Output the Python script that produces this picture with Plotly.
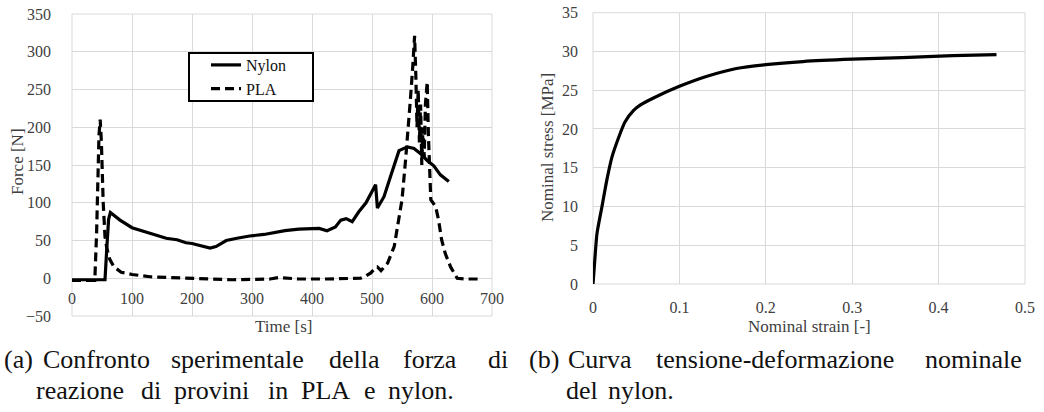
import plotly.graph_objects as go

# ---------------- data ----------------
nylon_t = [0, 20, 40, 55, 58, 61, 64, 70, 80, 100, 120, 140, 157, 175, 190, 200, 215, 230,
           240, 257, 275, 296, 320, 340, 355, 378, 412, 425, 439, 448, 457, 467, 478, 490,
           498, 506, 509, 520, 531, 545, 559, 570, 581, 592, 603, 614, 628]
nylon_f = [-2, -2, -2, -2, 40, 78, 87, 83, 77, 67, 62, 57, 53, 51, 47, 46, 43, 40,
           42, 50, 53, 56, 58, 61, 63, 65, 66, 63, 68, 77, 79, 75, 88, 100,
           113, 124, 93, 108, 135, 169, 174, 172, 165, 156, 149, 137, 128]

pla_t = [0, 20, 38, 41, 45, 47, 49, 52, 55, 58, 63, 70, 82, 100, 130, 160, 185, 230, 268,
         300, 330, 345, 360, 378, 420, 460, 481, 490, 498, 505, 509, 515, 526, 537, 545,
         550, 556, 560, 564, 568, 571, 573, 575, 577, 579, 581, 583, 585, 587, 589, 592,
         594, 596, 598, 606, 611, 616, 622, 631, 642, 655, 683]
pla_f = [-3, -3, -3, 60, 190, 210, 180, 100, 55, 40, 25, 15, 8, 5, 2, 1, 0, -1, -2,
         -2, -1, 1, 0, -1, -1, -1, 0, 3, 7, 13, 15, 10, 20, 42, 82,
         104, 157, 192, 237, 281, 321, 270, 200, 250, 180, 230, 150, 200, 160, 230, 260,
         190, 140, 104, 95, 77, 51, 33, 15, 0, -1, -1]

strain = [0, 0.0015, 0.0046, 0.0104, 0.016, 0.022, 0.03, 0.037, 0.047, 0.055, 0.07,
          0.1, 0.132, 0.166, 0.2, 0.243, 0.3, 0.358, 0.416, 0.467]
stress = [0, 2.2, 6.5, 10, 13.4, 16.4, 19, 20.9, 22.4, 23.1, 24,
          25.5, 26.8, 27.8, 28.3, 28.7, 29.0, 29.2, 29.45, 29.6]

time_ticks = [0, 100, 200, 300, 400, 500, 600, 700]
force_ticks = [-50, 0, 50, 100, 150, 200, 250, 300, 350]
strain_ticks = [0, 0.1, 0.2, 0.3, 0.4, 0.5]
strain_labels = ["0", "0.1", "0.2", "0.3", "0.4", "0.5"]
stress_ticks = [0, 5, 10, 15, 20, 25, 30, 35]

caption_a1 = ["(a)", "Confronto", "sperimentale", "della", "forza", "di"]
caption_a2 = ["reazione", "di", "provini", "in", "PLA", "e", "nylon."]
caption_b1 = ["(b)", "Curva", "tensione-deformazione", "nominale"]
caption_b2 = ["del", "nylon."]

# ---------------- layout constants ----------------
W, H = 1044, 412
def px(x):
    return x / W
def py(y):
    return 1 - y / H

SERIF = "Liberation Serif"
TICKFONT = dict(family=SERIF, size=16, color="#404040")
TITLEFONT = dict(family=SERIF, size=17, color="#404040")
CAPFONT = dict(family=SERIF, size=26, color="#111111")
GRID = "#d9d9d9"

fig = go.Figure()

fig.add_trace(go.Scatter(x=nylon_t, y=nylon_f, mode="lines", name="Nylon",
                         line=dict(color="black", width=3.2), xaxis="x", yaxis="y"))
fig.add_trace(go.Scatter(x=pla_t, y=pla_f, mode="lines", name="PLA",
                         line=dict(color="black", width=3.2, dash="9px,5px"),
                         xaxis="x", yaxis="y"))
fig.add_trace(go.Scatter(x=strain, y=stress, mode="lines", name="Nylon stress-strain",
                         line=dict(color="black", width=3.2, shape="spline", smoothing=0.6),
                         xaxis="x2", yaxis="y2", showlegend=False))

left_dom_y = [py(316), py(14)]
zero_pos = left_dom_y[0] + (left_dom_y[1] - left_dom_y[0]) * (50 / 400)

axis_common = dict(showgrid=True, gridcolor=GRID, gridwidth=1, zeroline=False,
                   showline=False, ticks="", tickfont=TICKFONT, automargin=False)

fig.update_layout(
    width=W, height=H,
    margin=dict(l=0, r=0, t=0, b=0, autoexpand=False),
    paper_bgcolor="white", plot_bgcolor="white",
    showlegend=True,
    legend=dict(x=px(206), y=py(48), xanchor="left", yanchor="top",
                bgcolor="rgba(0,0,0,0)", borderwidth=0,
                font=dict(family=SERIF, size=16, color="#111111"),
                itemwidth=30, tracegroupgap=0),
    xaxis=dict(domain=[px(72), px(492)], range=[0, 700], tickvals=time_ticks,
               anchor="free", position=zero_pos, ticklabelstandoff=9, **axis_common),
    yaxis=dict(domain=left_dom_y, range=[-50, 350], tickvals=force_ticks,
               ticklabelstandoff=20, anchor="x", **axis_common),
    xaxis2=dict(domain=[px(593), px(1025)], range=[0, 0.5], tickvals=strain_ticks,
                ticktext=strain_labels, anchor="y2", ticklabelstandoff=12, **axis_common),
    yaxis2=dict(domain=[py(284), py(12.7)], range=[0, 35], tickvals=stress_ticks,
                anchor="x2", ticklabelstandoff=14, **axis_common),
)

# plot-area borders (light grid colour)
for xr, yr in (("x domain", "y domain"), ("x2 domain", "y2 domain")):
    fig.add_shape(type="rect", xref=xr, yref=yr, x0=0, x1=1, y0=0, y1=1,
                  line=dict(color=GRID, width=1), layer="below")

# legend frame (Excel-style box around the legend entries)
fig.add_shape(type="rect", xref="paper", yref="paper",
              x0=px(189), x1=px(313), y0=py(101), y1=py(53),
              line=dict(color="black", width=2), fillcolor="white", layer="above")

ann = []
ann.append(dict(text="Time [s]", x=px(283), y=py(326), xref="paper", yref="paper",
                showarrow=False, font=TITLEFONT, xanchor="center", yanchor="middle"))
ann.append(dict(text="Force [N]", x=px(17), y=py(162), xref="paper", yref="paper",
                showarrow=False, font=TITLEFONT, textangle=-90,
                xanchor="center", yanchor="middle"))
ann.append(dict(text="Nominal strain [-]", x=px(809), y=py(326), xref="paper", yref="paper",
                showarrow=False, font=TITLEFONT, xanchor="center", yanchor="middle"))
ann.append(dict(text="Nominal stress [MPa]", x=px(547), y=py(148), xref="paper",
                yref="paper", showarrow=False, font=TITLEFONT, textangle=-90,
                xanchor="center", yanchor="middle"))

# captions, word by word (justified as in the source)
pos_a1 = [3, 42, 170, 328, 402, 487]
pos_a2 = [35, 140, 173, 267, 300, 363, 387]
pos_b1 = [528, 567, 655, 924]
pos_b2 = [565, 607]
for words, xs, yline in ((caption_a1, pos_a1, 359), (caption_a2, pos_a2, 390),
                         (caption_b1, pos_b1, 359), (caption_b2, pos_b2, 390)):
    for w, x0 in zip(words, xs):
        ann.append(dict(text=w, x=px(x0), y=py(yline), xref="paper", yref="paper",
                        showarrow=False, font=CAPFONT, xanchor="left",
                        yanchor="middle", borderpad=0))

fig.update_layout(annotations=ann)

fig.write_html("out.html", config={"displayModeBar": False},
               post_script="document.body.style.margin='0';document.body.style.overflow='hidden';")
